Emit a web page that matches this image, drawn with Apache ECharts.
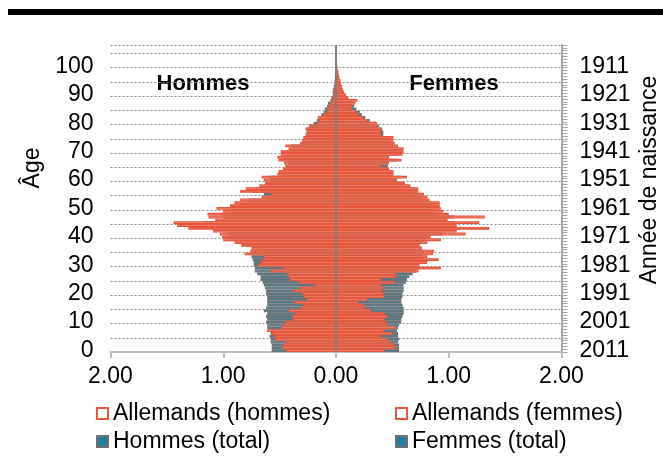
<!DOCTYPE html>
<html>
<head>
<meta charset="utf-8">
<script src="https://cdn.jsdelivr.net/npm/echarts@6/dist/echarts.min.js"></script>
<style>
html,body{margin:0;padding:0;background:#fff;}
#chart{width:663px;height:459px;}
</style>
</head>
<body>
<div id="chart"></div>
<script>
// Categories: ages 0..107
const ages = Array.from({length:108}, (_, i) => String(i));
// Secondary axis: year of birth
const birthYears = ages.map(a => String(2011 - Number(a)));
const xTicks = [-2, -1, 0, 1, 2];

// Allemands (hommes), % (shown to the left)
const allemandsHommes = [
 0.44,0.48,0.47,0.45,0.54,0.55,0.57,0.61,0.49,0.47,
 0.45,0.38,0.39,0.36,0.42,0.32,0.29,0.37,0.26,0.29,
 0.30,0.38,0.32,0.19,0.33,0.41,0.42,0.44,0.58,0.47,
 0.69,0.67,0.65,0.64,0.81,0.76,0.75,0.84,0.90,1.00,
 1.01,1.03,1.09,1.31,1.41,1.44,1.07,1.13,1.14,1.00,
 1.06,0.94,0.90,0.85,0.66,0.58,0.85,0.80,0.68,0.63,
 0.64,0.66,0.52,0.51,0.47,0.45,0.46,0.51,0.52,0.49,
 0.49,0.42,0.45,0.32,0.30,0.29,0.27,0.26,0.27,0.24,
 0.17,0.15,0.16,0.11,0.08,0.08,0.06,0.05,0.04,0.03,
 0.025,0.02,0.02,0.015,0.012,0.01,0.01,0.008,0.006,0.005,
 0.004,0.003,0.002,0.002,0.001,0.001,0,0
];
// Allemands (femmes), %
const allemandsFemmes = [
 0.43,0.53,0.52,0.50,0.46,0.39,0.50,0.43,0.53,0.46,
 0.45,0.43,0.46,0.43,0.31,0.26,0.25,0.20,0.28,0.43,
 0.43,0.40,0.42,0.40,0.52,0.40,0.53,0.53,0.73,0.93,
 0.74,0.81,0.91,0.81,0.86,0.87,0.76,0.74,0.81,0.93,
 0.84,1.15,1.07,1.36,1.07,1.27,0.99,1.32,1.00,0.95,
 0.93,0.92,0.92,0.83,0.81,0.78,0.73,0.73,0.66,0.61,
 0.53,0.63,0.51,0.51,0.47,0.40,0.47,0.58,0.47,0.59,
 0.60,0.60,0.55,0.52,0.51,0.51,0.40,0.40,0.40,0.37,
 0.36,0.28,0.24,0.20,0.18,0.14,0.14,0.17,0.19,0.11,
 0.09,0.07,0.06,0.055,0.045,0.04,0.03,0.025,0.02,0.015,
 0.012,0.01,0.008,0.006,0.004,0.003,0.002,0
];
// Hommes (total), %
const hommesTotal = [
 0.57,0.57,0.57,0.58,0.58,0.59,0.58,0.58,0.61,0.61,
 0.62,0.61,0.62,0.61,0.64,0.62,0.61,0.61,0.61,0.61,
 0.62,0.62,0.63,0.64,0.65,0.67,0.67,0.70,0.72,0.72,
 0.73,0.73,0.74,0.75,0.75,0.74,0.72,0.80,0.85,0.90,
 0.92,0.95,0.98,1.10,1.15,1.18,1.00,1.00,1.02,0.92,
 0.95,0.85,0.80,0.78,0.63,0.64,0.75,0.72,0.62,0.58,
 0.58,0.60,0.48,0.47,0.44,0.42,0.42,0.46,0.47,0.44,
 0.44,0.38,0.40,0.30,0.29,0.28,0.26,0.26,0.26,0.24,
 0.20,0.17,0.16,0.13,0.11,0.10,0.08,0.07,0.05,0.04,
 0.03,0.03,0.025,0.02,0.015,0.012,0.01,0.008,0.006,0.005,
 0.004,0.003,0.003,0.002,0.002,0.001,0.001,0.001
];
// Femmes (total), %
const femmesTotal = [
 0.56,0.56,0.56,0.55,0.56,0.55,0.55,0.54,0.55,0.56,
 0.58,0.58,0.59,0.60,0.60,0.60,0.59,0.58,0.58,0.59,
 0.59,0.60,0.60,0.60,0.62,0.63,0.65,0.68,0.71,0.72,
 0.72,0.74,0.76,0.76,0.78,0.78,0.76,0.74,0.76,0.80,
 0.80,0.95,0.92,1.10,0.95,1.05,0.90,1.05,0.90,0.88,
 0.86,0.85,0.85,0.78,0.76,0.73,0.70,0.70,0.62,0.58,
 0.54,0.58,0.49,0.50,0.46,0.46,0.45,0.54,0.46,0.55,
 0.56,0.56,0.52,0.50,0.48,0.48,0.42,0.42,0.41,0.38,
 0.36,0.30,0.26,0.23,0.21,0.18,0.16,0.14,0.12,0.10,
 0.08,0.065,0.05,0.04,0.035,0.03,0.025,0.02,0.015,0.012,
 0.01,0.008,0.006,0.004,0.003,0.002,0.002,0.001
];

const FONT = "'Liberation Sans', Arial, sans-serif";
const RED = '#e8553a';
const RED_FILL = '#f3a08b';
const TEAL = '#2a7c9a';
const GREY = '#6c767a';

const chart = echarts.init(document.getElementById('chart'), null, {renderer: 'canvas'});

function legendItem(name, left, top, style) {
  return {
    data: [{name: name, itemStyle: style}],
    left: left, top: top,
    icon: 'rect', itemWidth: 11, itemHeight: 11,
    textStyle: {fontFamily: FONT, fontSize: 23, color: '#000'},
    selectedMode: false
  };
}
const redIcon = {color: '#ffffff', borderColor: RED, borderWidth: 2};
const tealIcon = {color: '#1f7fa3', borderColor: '#707070', borderWidth: 2};

const option = {
  animation: false,
  textStyle: {fontFamily: FONT},
  grid: {left: 110.5, right: 101.5, top: 45, bottom: 107, containLabel: false},
  legend: [
    legendItem('Allemands (hommes)', 91, 397, redIcon),
    legendItem('Allemands (femmes)', 390, 397, redIcon),
    legendItem('Hommes (total)', 91, 425, tealIcon),
    legendItem('Femmes (total)', 390, 425, tealIcon)
  ],
  xAxis: {
    type: 'value', min: xTicks[0], max: xTicks[xTicks.length - 1], interval: 1,
    axisLine: {show: true, lineStyle: {color: '#bfbfbf', width: 2}},
    axisTick: {show: true, length: 6, lineStyle: {color: '#bfbfbf', width: 2}},
    axisLabel: {formatter: v => Math.abs(v).toFixed(2), fontSize: 23, color: '#000', margin: 13, fontFamily: FONT},
    splitLine: {show: false}
  },
  yAxis: [
    {
      type: 'category', data: ages, position: 'left',
      axisLine: {show: false}, axisTick: {show: false},
      axisLabel: {interval: 9, fontSize: 23, color: '#000', margin: 17, fontFamily: FONT},
      splitLine: {show: true, interval: 4, lineStyle: {color: '#8c8c8c', width: 1, type: [2, 2]}}
    },
    {
      type: 'category', data: birthYears, position: 'right',
      axisLine: {show: true, lineStyle: {color: '#a6a6a6', width: 2}},
      axisTick: {show: true, interval: 0, length: 6, lineStyle: {color: '#a6a6a6', width: 1}},
      axisLabel: {interval: 9, fontSize: 23, color: '#000', margin: 18, fontFamily: FONT},
      splitLine: {show: false}
    }
  ],
  series: [
    {
      name: 'Hommes (total)', type: 'bar', yAxisIndex: 0,
      data: hommesTotal.map(v => -v),
      barGap: '-100%', barCategoryGap: '0%',
      itemStyle: {color: TEAL, borderColor: GREY, borderWidth: 1.2}
    },
    {
      name: 'Femmes (total)', type: 'bar', yAxisIndex: 0,
      data: femmesTotal,
      barGap: '-100%', barCategoryGap: '0%',
      itemStyle: {color: TEAL, borderColor: GREY, borderWidth: 1.2}
    },
    {
      name: 'Allemands (hommes)', type: 'bar', yAxisIndex: 0,
      data: allemandsHommes.map(v => -v),
      barGap: '-100%', barCategoryGap: '0%',
      itemStyle: {color: RED_FILL, borderColor: RED, borderWidth: 1.2}
    },
    {
      name: 'Allemands (femmes)', type: 'bar', yAxisIndex: 0,
      data: allemandsFemmes,
      barGap: '-100%', barCategoryGap: '0%',
      itemStyle: {color: RED_FILL, borderColor: RED, borderWidth: 1.2},
      markLine: {
        silent: true, symbol: 'none', label: {show: false},
        lineStyle: {color: '#7f7f7f', width: 2, type: 'solid'},
        data: [{xAxis: 0}]
      }
    }
  ],
  graphic: [
    {type: 'rect', shape: {x: 8, y: 9, width: 655, height: 6}, style: {fill: '#000'}},
    {type: 'text', x: 203, y: 84, style: {text: 'Hommes', fontFamily: FONT, fontSize: 22, fontWeight: 'bold', fill: '#000', textAlign: 'center', textVerticalAlign: 'middle'}},
    {type: 'text', x: 454, y: 84, style: {text: 'Femmes', fontFamily: FONT, fontSize: 22, fontWeight: 'bold', fill: '#000', textAlign: 'center', textVerticalAlign: 'middle'}},
    {type: 'text', x: 33, y: 168, rotation: Math.PI / 2, style: {text: 'Âge', fontFamily: FONT, fontSize: 23, fill: '#000', textAlign: 'center', textVerticalAlign: 'middle'}},
    {type: 'text', x: 650, y: 180, rotation: Math.PI / 2, style: {text: 'Année de naissance', fontFamily: FONT, fontSize: 23, fill: '#000', textAlign: 'center', textVerticalAlign: 'middle'}}
  ]
};
chart.setOption(option);
</script>
</body>
</html>
